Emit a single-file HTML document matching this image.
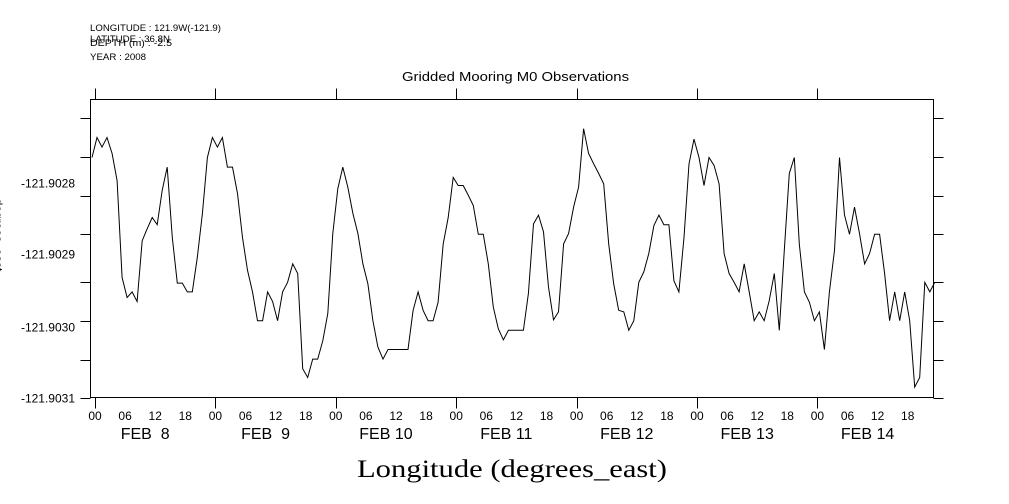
<!DOCTYPE html>
<html><head><meta charset="utf-8"><style>
html,body{margin:0;padding:0;background:#fff;}
svg{display:block;font-family:"Liberation Sans",sans-serif;}
</style></head><body>
<svg id="chart" width="1009" height="504" viewBox="0 0 1009 504">
<g font-size="9" fill="#000">
<text x="90" y="31" textLength="131" lengthAdjust="spacingAndGlyphs">LONGITUDE : 121.9W(-121.9)</text>
<text x="90" y="42" textLength="80" lengthAdjust="spacingAndGlyphs">LATITUDE : 36.8N</text>
<text x="90" y="46" textLength="82" lengthAdjust="spacingAndGlyphs">DEPTH (m) : -2.5</text>
<text x="90" y="60" textLength="56" lengthAdjust="spacingAndGlyphs">YEAR : 2008</text>
</g>
<text x="402" y="81" font-size="13" textLength="227" lengthAdjust="spacingAndGlyphs">Gridded Mooring M0 Observations</text>
<rect x="90.5" y="99.5" width="843" height="298" fill="none" stroke="#000" stroke-width="1"/>
<g id="yaxis"></g>
<g id="xaxis"></g>
<path id="series" fill="none" stroke="#000" stroke-width="1"/>
<text x="357" y="477" font-family="'Liberation Serif',serif" font-size="25" textLength="310" lengthAdjust="spacingAndGlyphs">Longitude (degrees_east)</text>
<text transform="translate(-6,235) rotate(90)" font-size="12" text-anchor="middle">degrees_east</text>
</svg>
<script>
const values = [
-121.902800,-121.902775,-121.902787,-121.902775,-121.902795,-121.902829,-121.902950,-121.902975,-121.902968,-121.902980,-121.902904,-121.902889,-121.902875,-121.902884,-121.902841,-121.902812,-121.902900,-121.902957,-121.902957,-121.902968,-121.902968,-121.902925,-121.902870,-121.902800,-121.902775,-121.902787,-121.902775,-121.902812,-121.902812,-121.902845,-121.902900,-121.902941,-121.902968,-121.903004,-121.903004,-121.902968,-121.902980,-121.903004,-121.902968,-121.902956,-121.902933,-121.902945,-121.903064,
-121.903075,-121.903052,-121.903052,-121.903029,-121.902995,-121.902895,-121.902839,-121.902812,-121.902837,-121.902870,-121.902895,-121.902933,-121.902958,-121.903004,-121.903037,-121.903052,-121.903040,-121.903040,-121.903040,-121.903040,-121.903040,-121.902991,-121.902968,-121.902991,-121.903004,-121.903004,-121.902981,-121.902908,-121.902875,-121.902825,-121.902835,-121.902835,-121.902847,-121.902860,-121.902896,-121.902896,-121.902933,-121.902987,-121.903014,-121.903028,-121.903016,-121.903016,
-121.903016,-121.903016,-121.902970,-121.902883,-121.902872,-121.902893,-121.902962,-121.903003,-121.902993,-121.902908,-121.902895,-121.902862,-121.902837,-121.902764,-121.902795,-121.902808,-121.902820,-121.902833,-121.902908,-121.902958,-121.902991,-121.902993,-121.903016,-121.903004,-121.902956,-121.902943,-121.902920,-121.902885,-121.902872,-121.902884,-121.902884,-121.902954,-121.902968,-121.902900,-121.902808,-121.902777,-121.902800,-121.902835,-121.902800,-121.902810,-121.902833,-121.902920,-121.902945,
-121.902956,-121.902968,-121.902933,-121.902968,-121.903004,-121.902993,-121.903004,-121.902979,-121.902945,-121.903016,-121.902916,-121.902820,-121.902800,-121.902908,-121.902968,-121.902981,-121.903004,-121.902993,-121.903040,-121.902968,-121.902916,-121.902800,-121.902872,-121.902896,-121.902862,-121.902895,-121.902933,-121.902920,-121.902896,-121.902896,-121.902945,-121.903004,-121.902968,-121.903004,-121.902968,-121.903004,-121.903087,-121.903075,-121.902956,-121.902968,-121.902956
];
const startHour = -0.6; // hours relative to FEB 8 00:00, hourly samples
const yTicks = [-121.902751,-121.902799,-121.902848,-121.902896,-121.902956,-121.903004,-121.903053,-121.903100];
const yLabelValues = [-121.902831,-121.902920,-121.903011,-121.903100];
const yLabelText = ["-121.9028","-121.9029","-121.9030","-121.9031"];
const dayLabels = ["FEB  8","FEB  9","FEB 10","FEB 11","FEB 12","FEB 13","FEB 14"];
const hourLabels = ["00","06","12","18"];

const NS="http://www.w3.org/2000/svg";
const L=90.5,R=933.5,T=99.5,B=397.5;
const x0=95, pxPerHour=120.4/24;
function xScale(h){return x0+h*pxPerHour;}
const yMin=-121.9031, pxPerUnit=1/1.25e-6;
function yScale(v){return 397.5-(v-yMin)*pxPerUnit;}
function mk(tag,attrs,parent){const e=document.createElementNS(NS,tag);for(const k in attrs)e.setAttribute(k,attrs[k]);parent.appendChild(e);return e;}

const ya=document.getElementById('yaxis');
yTicks.forEach(v=>{const y=Math.round(yScale(v))+0.5;
 const t1=mk('line',{x1:L-10,x2:L,y1:y,y2:y,stroke:'#000'},ya);
 
 
 const t2=mk('line',{x1:R,x2:R+10,y1:y,y2:y,stroke:'#000'},ya);
 
 
});
yLabelValues.forEach((v,i)=>{
 const t=mk('text',{x:75,y:yScale(v)+5,'font-size':12,'text-anchor':'end'},ya);
 t.textContent=yLabelText[i];
 
 
});

const xa=document.getElementById('xaxis');
for(let d=0;d<dayLabels.length;d++){
 const x=Math.round(xScale(d*24))+0.5;
 const a=mk('line',{x1:x,x2:x,y1:T-11,y2:T,stroke:'#000'},xa);
 
 
 const b=mk('line',{x1:x,x2:x,y1:B,y2:B+11,stroke:'#000'},xa);
 
 
}
dayLabels.forEach((lab,d)=>{
 hourLabels.forEach((h,j)=>{
  const t=mk('text',{x:xScale(d*24+j*6),y:420,'font-size':12,'text-anchor':'middle'},xa);
  t.textContent=h;
  
  
 });
 const t=mk('text',{x:xScale(d*24+10),y:439,'font-size':16,'text-anchor':'middle'},xa);
 t.style.whiteSpace='pre';
 t.textContent=lab;
 
 
});

let d='';
values.forEach((v,i)=>{d+=(i?'L':'M')+xScale(startHour+i).toFixed(1)+' '+yScale(v).toFixed(1);});
document.getElementById('series').setAttribute('d',d);
</script>
</body></html>
